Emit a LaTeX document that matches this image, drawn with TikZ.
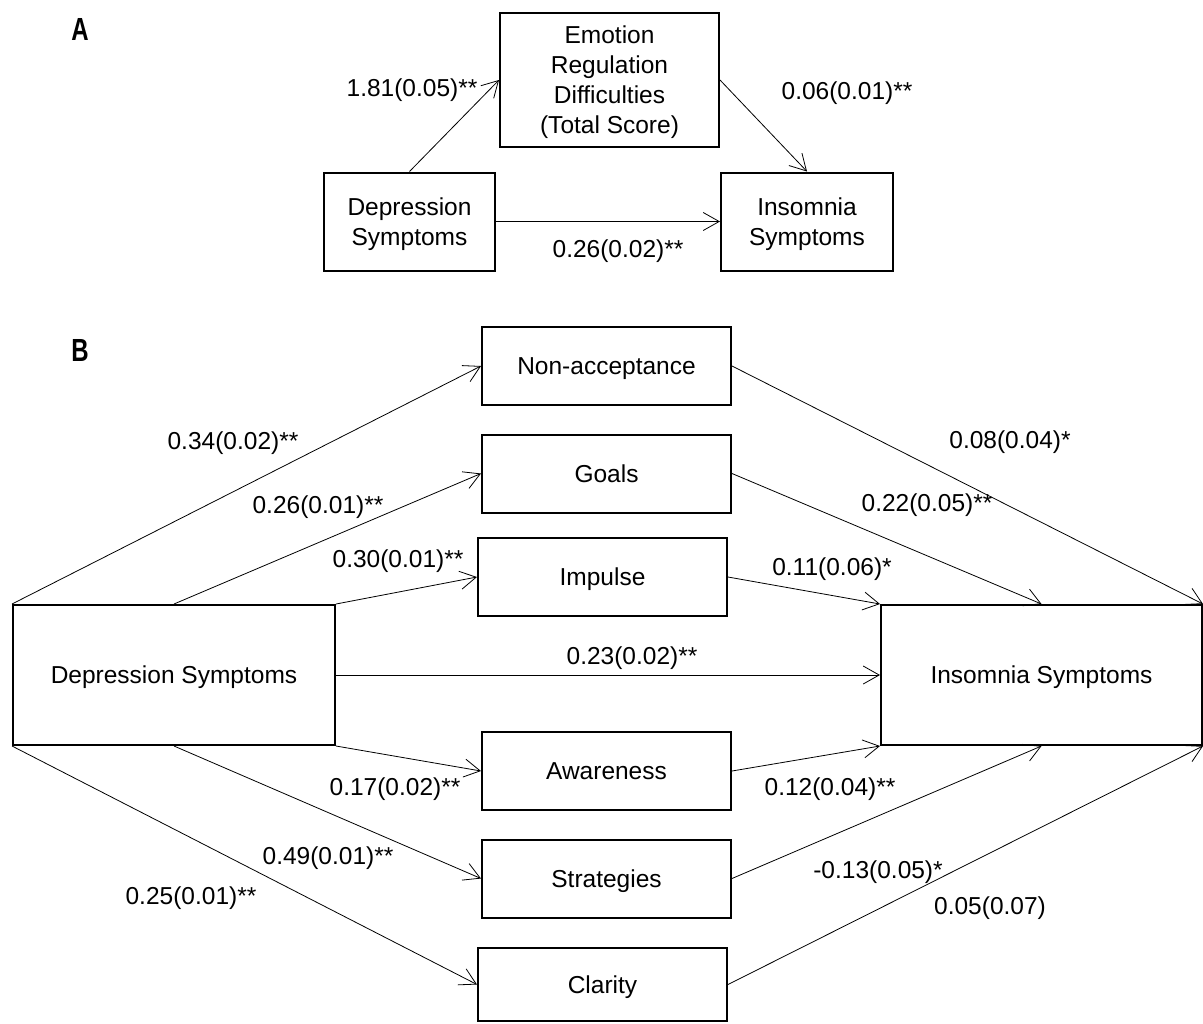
\documentclass[tikz,border=0pt]{standalone}
\usepackage{fontspec}
\setmainfont{Liberation Sans}
\newfontfamily\narrowfont[FakeStretch=0.75]{Liberation Sans}
\usetikzlibrary{arrows.meta}

\begin{document}
\begin{tikzpicture}[x=0.5pt, y=-0.5pt,
  varbox/.style={draw, line width=1pt, inner sep=0pt, align=center, text depth=0pt, font=\textfontsize},
  medbox/.style={varbox, minimum width=124.5pt, minimum height=39pt},
  coef/.style={inner sep=0pt, yshift=-1.5pt, font=\textfontsize},
  panel/.style={inner sep=0pt, font=\panelfontsize},
  effect/.style={line width=0.4pt, -{Straight Barb[length=8pt, width=9pt, line width=0.4pt]}}]
\def\textfontsize{\fontsize{12.25}{15}\selectfont}
\def\panelfontsize{\narrowfont\bfseries\fontsize{16}{16}\selectfont}

\useasboundingbox (0,0) rectangle (1203,1023);

\begin{scope} % PANEL A
\node[panel] (labA) at (80, 29) {A};

\node[varbox, minimum width=109.5pt, minimum height=67pt] (erd) at (609.5, 80) {Emotion\\Regulation\\Difficulties\\(Total Score)};
\node[varbox, minimum width=85.5pt, minimum height=49pt] (depA) at (409.5, 221.5) {Depression\\Symptoms};
\node[varbox, minimum width=86pt, minimum height=49pt] (insA) at (807, 221.5) {Insomnia\\Symptoms};

\draw[effect] (depA.north) -- (erd.west);
\draw[effect] (erd.east) -- (insA.north);
\draw[effect] (depA.east) -- (insA.west);

\node[coef] (cA1) at (412, 87) {1.81(0.05)**};
\node[coef] (cA2) at (847, 90) {0.06(0.01)**};
\node[coef] (cA3) at (618, 248) {0.26(0.02)**};
\end{scope}

\begin{scope} % PANEL B
\node[panel] (labB) at (80, 350) {B};

\node[varbox, minimum width=161pt, minimum height=70pt] (depB) at (174, 675) {Depression Symptoms};
\node[varbox, minimum width=160.5pt, minimum height=70pt] (insB) at (1041.5, 675) {Insomnia Symptoms};

\node[medbox] (nonacc) at (606.5, 366) {Non-acceptance};
\node[medbox] (goals) at (606.5, 473.5) {Goals};
\node[medbox] (impulse) at (602.5, 577) {Impulse};
\node[medbox] (aware) at (606.5, 771) {Awareness};
\node[medbox] (strat) at (606.5, 878.5) {Strategies};
\node[medbox, minimum height=36.5pt] (clarity) at (602.5, 984.5) {Clarity};

% depression to mediators
\draw[effect] (depB.north west) -- (nonacc.west);
\draw[effect] (depB.north) -- (goals.west);
\draw[effect] (depB.north east) -- (impulse.west);
\draw[effect] (depB.east) -- (insB.west);
\draw[effect] (depB.south east) -- (aware.west);
\draw[effect] (depB.south) -- (strat.west);
\draw[effect] (depB.south west) -- (clarity.west);

% mediators to insomnia
\draw[effect] (nonacc.east) -- (insB.north east);
\draw[effect] (goals.east) -- (insB.north);
\draw[effect] (impulse.east) -- (insB.north west);
\draw[effect] (aware.east) -- (insB.south west);
\draw[effect] (strat.east) -- (insB.south);
\draw[effect] (clarity.east) -- (insB.south east);

\node[coef] (cB1) at (233, 440) {0.34(0.02)**};
\node[coef] (cB2) at (318, 504) {0.26(0.01)**};
\node[coef] (cB3) at (398, 558) {0.30(0.01)**};
\node[coef] (cB4) at (632, 655) {0.23(0.02)**};
\node[coef] (cB5) at (395, 786) {0.17(0.02)**};
\node[coef] (cB6) at (328, 855) {0.49(0.01)**};
\node[coef] (cB7) at (191, 895) {0.25(0.01)**};

\node[coef] (cB8) at (1010, 439) {0.08(0.04)*};
\node[coef] (cB9) at (927, 502) {0.22(0.05)**};
\node[coef] (cB10) at (832, 566) {0.11(0.06)*};
\node[coef] (cB11) at (830, 786) {0.12(0.04)**};
\node[coef] (cB12) at (878, 869) {-0.13(0.05)*};
\node[coef] (cB13) at (990, 905) {0.05(0.07)};
\end{scope}
\end{tikzpicture}
\end{document}
